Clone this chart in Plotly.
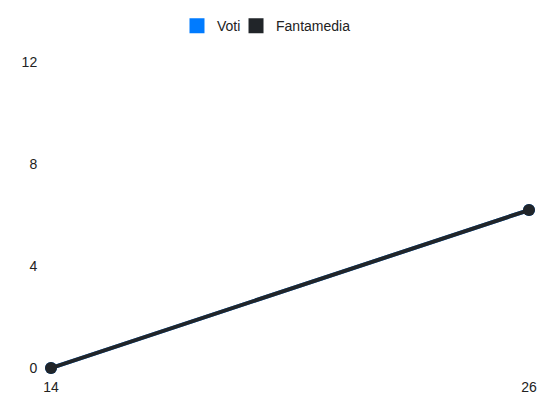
import plotly.graph_objects as go

giornate = [14, 26]
voti = [0, 6.2]
fantamedia = [0, 6.2]
y_ticks = [0, 4, 8, 12]

BLUE = "#007bff"
DARK = "#212529"

fig = go.Figure()
# real lines, kept out of the legend
fig.add_trace(go.Scatter(
    x=giornate, y=voti, name="Voti", mode="lines+markers", showlegend=False,
    line=dict(color=BLUE, width=4), marker=dict(size=12, color=BLUE),
    cliponaxis=False,
))
fig.add_trace(go.Scatter(
    x=giornate, y=fantamedia, name="Fantamedia", mode="lines+markers", showlegend=False,
    line=dict(color=DARK, width=4), marker=dict(size=12, color=DARK),
    cliponaxis=False,
))
# square legend entries, one legend each so they sit close together
for name, col, leg in [("Voti", BLUE, "legend"), ("Fantamedia", DARK, "legend2")]:
    fig.add_trace(go.Scatter(
        x=[None], y=[None], name=name, mode="markers", legend=leg,
        marker=dict(symbol="square", size=15, color=col),
    ))

leg_style = dict(orientation="h", xanchor="left", y=0.955, yanchor="middle",
                 xref="container", yref="container", itemclick=False,
                 bgcolor="rgba(0,0,0,0)", font=dict(size=14), itemwidth=30)

fig.update_layout(
    width=542, height=404,
    margin=dict(l=43, r=21, t=51, b=44),
    paper_bgcolor="white", plot_bgcolor="white",
    font=dict(family="Liberation Sans, Arial, sans-serif", size=14, color="#222"),
    showlegend=True,
    legend=dict(x=0.3118, **leg_style),
    legend2=dict(x=0.4207, **leg_style),
)
fig.update_xaxes(
    range=[giornate[0], giornate[-1]], tickvals=giornate, showgrid=False,
    zeroline=False, showline=False, ticks="outside", ticklen=6, tickcolor="rgba(0,0,0,0)",
)
fig.update_yaxes(
    range=[0, 12], tickvals=y_ticks, showgrid=False, zeroline=False, showline=False,
    ticks="outside", ticklen=10, tickcolor="rgba(0,0,0,0)",
)

fig.write_html("out.html")
